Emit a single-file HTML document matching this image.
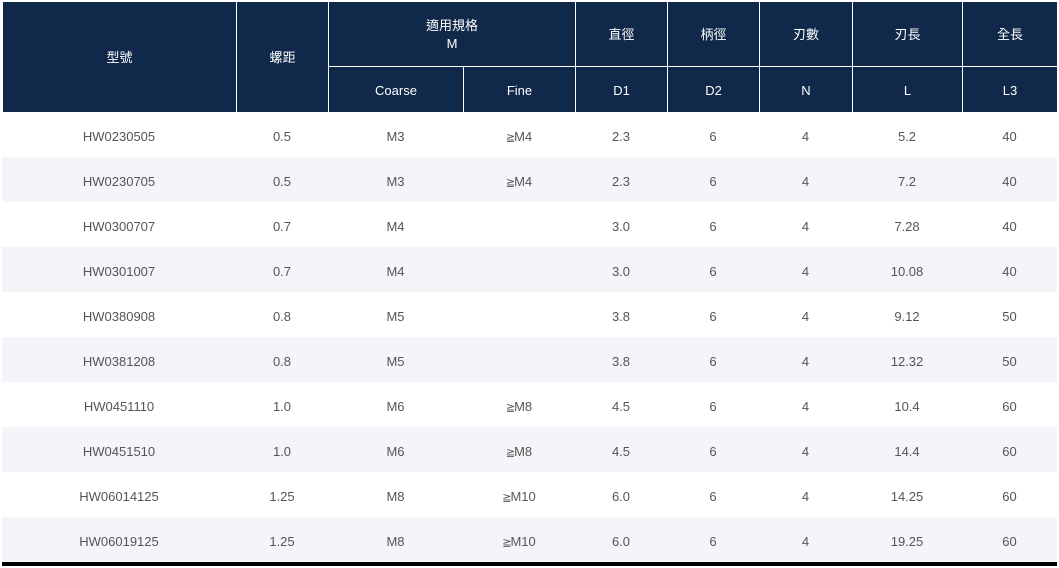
<!DOCTYPE html>
<html><head><meta charset="utf-8">
<style>
*{margin:0;padding:0;box-sizing:border-box}
html,body{width:1059px;height:568px;background:#fff;overflow:hidden;font-family:"Liberation Sans","Noto Sans CJK TC",sans-serif}
.h{position:absolute;background:#10284a}
.t{position:absolute;color:#fff;font-size:13px;text-align:center;line-height:16px}
.vl{position:absolute;background:#fff;width:1px}
.row{position:absolute;left:2px;width:1055px;height:45px}
.s{background:#f4f4f9}
.c{position:absolute;top:0;height:45px;line-height:49px;font-size:13px;color:#555;text-align:center}
.g{font-family:"DejaVu Sans","Liberation Sans",sans-serif;font-size:11px;letter-spacing:-1px}
</style></head><body>
<div class="h" style="left:3px;top:2px;width:1054px;height:110px"></div>
<div class="vl" style="left:236px;top:2px;height:110px"></div>
<div class="vl" style="left:328px;top:2px;height:110px"></div>
<div class="vl" style="left:463px;top:66px;height:46px"></div>
<div class="vl" style="left:575px;top:2px;height:110px"></div>
<div class="vl" style="left:667px;top:2px;height:110px"></div>
<div class="vl" style="left:759px;top:2px;height:110px"></div>
<div class="vl" style="left:852px;top:2px;height:110px"></div>
<div class="vl" style="left:962px;top:2px;height:110px"></div>
<div style="position:absolute;left:328px;top:66px;width:729px;height:1px;background:#fff"></div>

<div class="t" style="left:3px;width:233px;top:50px">型號</div>
<div class="t" style="left:237px;width:91px;top:50px">螺距</div>
<div class="t" style="left:329px;width:246px;top:18px">適用規格</div>
<div class="t" style="left:329px;width:246px;top:36px">M</div>
<div class="t" style="left:576px;width:91px;top:27px">直徑</div>
<div class="t" style="left:668px;width:91px;top:27px">柄徑</div>
<div class="t" style="left:760px;width:92px;top:27px">刃數</div>
<div class="t" style="left:853px;width:109px;top:27px">刃長</div>
<div class="t" style="left:963px;width:94px;top:27px">全長</div>
<div class="t" style="left:329px;width:134px;top:83px">Coarse</div>
<div class="t" style="left:464px;width:111px;top:83px">Fine</div>
<div class="t" style="left:576px;width:91px;top:83px">D1</div>
<div class="t" style="left:668px;width:91px;top:83px">D2</div>
<div class="t" style="left:760px;width:92px;top:83px">N</div>
<div class="t" style="left:853px;width:109px;top:83px">L</div>
<div class="t" style="left:963px;width:94px;top:83px">L3</div>

<div class="row" style="top:112px"><div class="c" style="left:0;width:234px">HW0230505</div><div class="c" style="left:234px;width:92px">0.5</div><div class="c" style="left:326px;width:135px">M3</div><div class="c" style="left:461px;width:112px"><span class="g">≧</span>M4</div><div class="c" style="left:573px;width:92px">2.3</div><div class="c" style="left:665px;width:92px">6</div><div class="c" style="left:757px;width:93px">4</div><div class="c" style="left:850px;width:110px">5.2</div><div class="c" style="left:960px;width:95px">40</div></div>
<div class="row s" style="top:157px"><div class="c" style="left:0;width:234px">HW0230705</div><div class="c" style="left:234px;width:92px">0.5</div><div class="c" style="left:326px;width:135px">M3</div><div class="c" style="left:461px;width:112px"><span class="g">≧</span>M4</div><div class="c" style="left:573px;width:92px">2.3</div><div class="c" style="left:665px;width:92px">6</div><div class="c" style="left:757px;width:93px">4</div><div class="c" style="left:850px;width:110px">7.2</div><div class="c" style="left:960px;width:95px">40</div></div>
<div class="row" style="top:202px"><div class="c" style="left:0;width:234px">HW0300707</div><div class="c" style="left:234px;width:92px">0.7</div><div class="c" style="left:326px;width:135px">M4</div><div class="c" style="left:461px;width:112px"></div><div class="c" style="left:573px;width:92px">3.0</div><div class="c" style="left:665px;width:92px">6</div><div class="c" style="left:757px;width:93px">4</div><div class="c" style="left:850px;width:110px">7.28</div><div class="c" style="left:960px;width:95px">40</div></div>
<div class="row s" style="top:247px"><div class="c" style="left:0;width:234px">HW0301007</div><div class="c" style="left:234px;width:92px">0.7</div><div class="c" style="left:326px;width:135px">M4</div><div class="c" style="left:461px;width:112px"></div><div class="c" style="left:573px;width:92px">3.0</div><div class="c" style="left:665px;width:92px">6</div><div class="c" style="left:757px;width:93px">4</div><div class="c" style="left:850px;width:110px">10.08</div><div class="c" style="left:960px;width:95px">40</div></div>
<div class="row" style="top:292px"><div class="c" style="left:0;width:234px">HW0380908</div><div class="c" style="left:234px;width:92px">0.8</div><div class="c" style="left:326px;width:135px">M5</div><div class="c" style="left:461px;width:112px"></div><div class="c" style="left:573px;width:92px">3.8</div><div class="c" style="left:665px;width:92px">6</div><div class="c" style="left:757px;width:93px">4</div><div class="c" style="left:850px;width:110px">9.12</div><div class="c" style="left:960px;width:95px">50</div></div>
<div class="row s" style="top:337px"><div class="c" style="left:0;width:234px">HW0381208</div><div class="c" style="left:234px;width:92px">0.8</div><div class="c" style="left:326px;width:135px">M5</div><div class="c" style="left:461px;width:112px"></div><div class="c" style="left:573px;width:92px">3.8</div><div class="c" style="left:665px;width:92px">6</div><div class="c" style="left:757px;width:93px">4</div><div class="c" style="left:850px;width:110px">12.32</div><div class="c" style="left:960px;width:95px">50</div></div>
<div class="row" style="top:382px"><div class="c" style="left:0;width:234px">HW0451110</div><div class="c" style="left:234px;width:92px">1.0</div><div class="c" style="left:326px;width:135px">M6</div><div class="c" style="left:461px;width:112px"><span class="g">≧</span>M8</div><div class="c" style="left:573px;width:92px">4.5</div><div class="c" style="left:665px;width:92px">6</div><div class="c" style="left:757px;width:93px">4</div><div class="c" style="left:850px;width:110px">10.4</div><div class="c" style="left:960px;width:95px">60</div></div>
<div class="row s" style="top:427px"><div class="c" style="left:0;width:234px">HW0451510</div><div class="c" style="left:234px;width:92px">1.0</div><div class="c" style="left:326px;width:135px">M6</div><div class="c" style="left:461px;width:112px"><span class="g">≧</span>M8</div><div class="c" style="left:573px;width:92px">4.5</div><div class="c" style="left:665px;width:92px">6</div><div class="c" style="left:757px;width:93px">4</div><div class="c" style="left:850px;width:110px">14.4</div><div class="c" style="left:960px;width:95px">60</div></div>
<div class="row" style="top:472px"><div class="c" style="left:0;width:234px">HW06014125</div><div class="c" style="left:234px;width:92px">1.25</div><div class="c" style="left:326px;width:135px">M8</div><div class="c" style="left:461px;width:112px"><span class="g">≧</span>M10</div><div class="c" style="left:573px;width:92px">6.0</div><div class="c" style="left:665px;width:92px">6</div><div class="c" style="left:757px;width:93px">4</div><div class="c" style="left:850px;width:110px">14.25</div><div class="c" style="left:960px;width:95px">60</div></div>
<div class="row s" style="top:517px"><div class="c" style="left:0;width:234px">HW06019125</div><div class="c" style="left:234px;width:92px">1.25</div><div class="c" style="left:326px;width:135px">M8</div><div class="c" style="left:461px;width:112px"><span class="g">≧</span>M10</div><div class="c" style="left:573px;width:92px">6.0</div><div class="c" style="left:665px;width:92px">6</div><div class="c" style="left:757px;width:93px">4</div><div class="c" style="left:850px;width:110px">19.25</div><div class="c" style="left:960px;width:95px">60</div></div>
<div style="position:absolute;left:2px;top:562px;width:1055px;height:4px;background:#000"></div>
</body></html>
